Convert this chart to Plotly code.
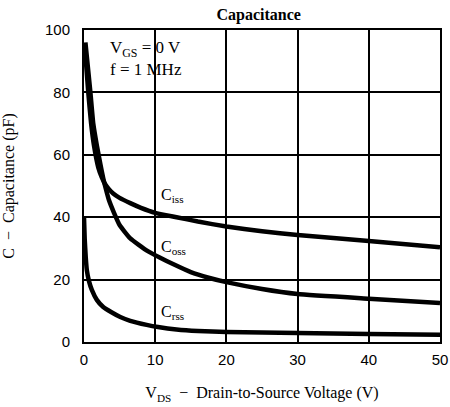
import plotly.graph_objects as go

# Data
ciss_v = [0.1, 0.6, 1.0, 1.4, 2.0, 2.5, 3.0, 3.5, 4.1, 5.0, 6.5, 8.0, 10, 13, 16, 20, 25, 30, 40, 50]
ciss_c = [95, 80, 70, 63, 56, 52.8, 50.5, 49, 47.6, 46.2, 44.5, 43, 41.4, 40, 38.6, 37, 35.5, 34.3, 32.4, 30.4]

coss_v = [0.2, 0.9, 1.3, 1.8, 2.3, 2.7, 3.0, 3.5, 4.2, 5.0, 6.5, 8.9, 10.7, 12.5, 15, 17.5, 20, 25, 30, 40, 50]
coss_c = [96, 80, 70, 63, 57, 52.5, 49.7, 45.5, 41.5, 37.5, 33.2, 29.2, 27, 25, 22.4, 20.6, 19.2, 17, 15.4, 13.9, 12.5]

crss_v = [0, 0.1, 0.25, 0.4, 0.7, 1.1, 1.8, 2.7, 3.8, 5.1, 6.5, 8.8, 10.4, 13, 16, 20, 30, 40, 50]
crss_c = [40, 33, 27, 23, 19.5, 16.7, 13.5, 11.2, 9.6, 8, 6.8, 5.5, 4.8, 4.0, 3.5, 3.2, 2.9, 2.6, 2.3]

x_ticks = [0, 10, 20, 30, 40, 50]
y_ticks = [0, 20, 40, 60, 80, 100]

serif = "Liberation Serif"
sans = "Liberation Sans"

fig = go.Figure()
for xs, ys in [(ciss_v, ciss_c), (coss_v, coss_c), (crss_v, crss_c)]:
    fig.add_trace(go.Scatter(x=xs, y=ys, mode="lines",
                             line=dict(color="black", width=4.5, shape="spline", smoothing=0.4),
                             showlegend=False, hoverinfo="skip"))

ann = [
    dict(x=3.4, y=93.8, text="V<sub>GS</sub> = 0 V", size=17),
    dict(x=3.4, y=87.4, text="f = 1 MHz", size=17),
    dict(x=10.6, y=47, text="C<sub>iss</sub>", size=16),
    dict(x=10.6, y=30.4, text="C<sub>oss</sub>", size=16),
    dict(x=10.6, y=9.3, text="C<sub>rss</sub>", size=16),
]
annotations = []
for a in ann:
    annotations.append(dict(x=a["x"], y=a["y"], xref="x", yref="y", text=a["text"],
                            showarrow=False, xanchor="left", yanchor="middle",
                            font=dict(family=serif, size=a["size"], color="black")))

fig.update_layout(
    width=450, height=407,
    margin=dict(l=84, r=10, t=30, b=65),
    paper_bgcolor="white", plot_bgcolor="white",
    title=dict(text="<b>Capacitance</b>", x=0.575, xanchor="center", y=0.965, yanchor="middle",
               font=dict(family=serif, size=16, color="black")),
    annotations=annotations,
    xaxis=dict(range=[0, 50], tickvals=x_ticks, showgrid=True, gridcolor="black", gridwidth=1.8,
               showline=True, linecolor="black", linewidth=2, mirror=True, zeroline=False,
               automargin=False,
               ticks="outside", ticklen=3, tickcolor="rgba(0,0,0,0)",
               tickfont=dict(family=sans, size=15, color="black"),
               title=dict(text="V<sub>DS</sub>  −  Drain-to-Source Voltage (V)", standoff=20,
                          font=dict(family=serif, size=16, color="black"))),
    yaxis=dict(range=[0, 100], tickvals=y_ticks, showgrid=True, gridcolor="black", gridwidth=1.8,
               showline=True, linecolor="black", linewidth=2, mirror=True, zeroline=False,
               automargin=False,
               ticks="outside", ticklen=9, tickcolor="rgba(0,0,0,0)",
               tickfont=dict(family=sans, size=15, color="black"),
               title=dict(text="C  −  Capacitance (pF)", standoff=28,
                          font=dict(family=serif, size=16, color="black"))),
)

fig.write_html("out.html", config={"displayModeBar": False})
with open("out.html", "r", encoding="utf-8") as f:
    html = f.read()
html = html.replace("<body>", '<body style="margin:0;padding:0;">', 1)
with open("out.html", "w", encoding="utf-8") as f:
    f.write(html)
